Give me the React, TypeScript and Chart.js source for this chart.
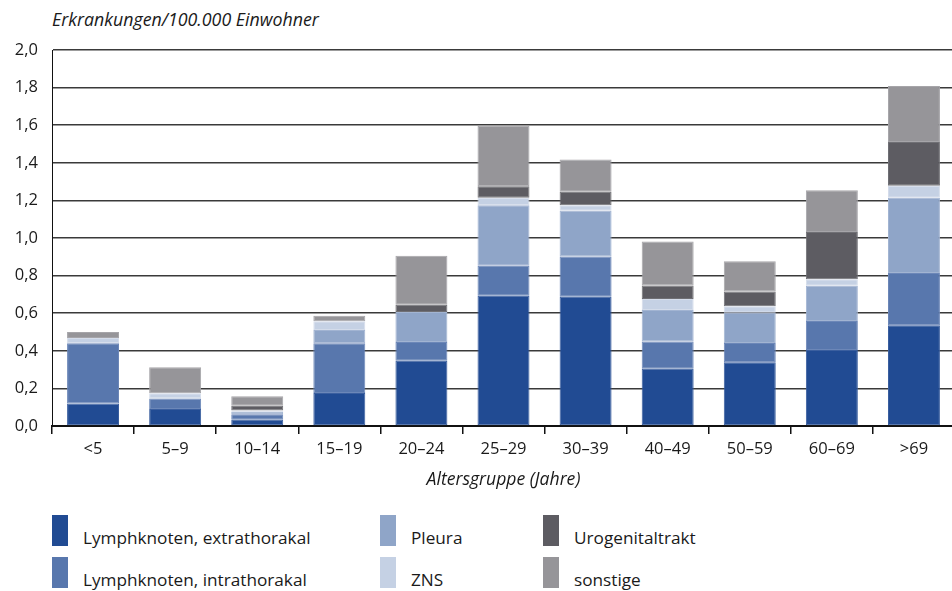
import React, { useEffect, useRef } from "react";
import { Chart, registerables } from "chart.js";

Chart.register(...registerables);

const categories = ["<5", "5–9", "10–14", "15–19", "20–24", "25–29", "30–39", "40–49", "50–59", "60–69", ">69"];

const extrathorakal = [0.12, 0.09, 0.033, 0.175, 0.347, 0.693, 0.688, 0.305, 0.339, 0.404, 0.536];
const intrathorakal = [0.32, 0.056, 0.03, 0.265, 0.10, 0.16, 0.213, 0.145, 0.102, 0.155, 0.278];
const pleura = [0.0, 0.0, 0.014, 0.07, 0.16, 0.321, 0.244, 0.167, 0.162, 0.187, 0.40];
const zns = [0.028, 0.028, 0.006, 0.047, 0.0, 0.04, 0.029, 0.059, 0.034, 0.034, 0.064];
const urogenital = [0.0, 0.0, 0.025, 0.0, 0.038, 0.061, 0.072, 0.072, 0.078, 0.252, 0.233];
const sonstige = [0.032, 0.138, 0.05, 0.03, 0.26, 0.322, 0.172, 0.233, 0.161, 0.222, 0.298];

const seriesNames = [
  "Lymphknoten, extrathorakal",
  "Lymphknoten, intrathorakal",
  "Pleura",
  "ZNS",
  "Urogenitaltrakt",
  "sonstige",
];
const seriesColors = ["#214b93", "#5877ad", "#8fa5c8", "#c5d1e4", "#5d5c62", "#969599"];
const seriesBorders = ["#3b5f9f", "#6c87b8", "#a2b4d2", "#d4dcea", "#707075", "#a6a5a9"];
const seriesValues = [extrathorakal, intrathorakal, pleura, zns, urogenital, sonstige];

const yTicks = [0, 0.2, 0.4, 0.6, 0.8, 1.0, 1.2, 1.4, 1.6, 1.8, 2.0];

const FONT = "'Open Sans', sans-serif";

export default function App() {
  const canvasRef = useRef<HTMLCanvasElement | null>(null);

  useEffect(() => {
    if (!canvasRef.current) return;
    const chart = new Chart(canvasRef.current, {
      type: "bar",
      data: {
        labels: categories,
        datasets: seriesValues.map((vals, i) => ({
          label: seriesNames[i],
          data: vals,
          backgroundColor: seriesColors[i],
          borderColor: seriesBorders[i],
          borderWidth: 1,
          borderSkipped: false,
          barPercentage: 0.633,
          categoryPercentage: 1,
        })),
      },
      options: {
        animation: false,
        responsive: false,
        maintainAspectRatio: false,
        layout: { padding: { left: 0, top: 50, right: 0, bottom: 0 } },
        plugins: { legend: { display: false }, tooltip: { enabled: false }, title: { display: false } },
        scales: {
          x: {
            stacked: true,
            afterFit: (scale: any) => {
              scale.height = 44;
            },
            grid: {
              offset: true,
              drawOnChartArea: false,
              drawTicks: true,
              tickLength: 8,
              color: "#111",
              lineWidth: 1.5,
            },
            border: { display: true, color: "#111", width: 2 },
            ticks: { color: "#1a1a1a", font: { family: FONT, size: 16.5 }, padding: 5, maxRotation: 0 },
          },
          y: {
            stacked: true,
            min: 0,
            max: 2,
            afterFit: (scale: any) => {
              scale.width = 52;
            },
            afterBuildTicks: (scale: any) => {
              scale.ticks = yTicks.map((v) => ({ value: v }));
            },
            grid: { color: "#3a3a3a", lineWidth: 1.5, drawTicks: false },
            border: { display: true, color: "#111", width: 1 },
            ticks: {
              color: "#1a1a1a",
              font: { family: FONT, size: 16.5 },
              padding: 14,
              callback: (v: any) => Number(v).toFixed(1).replace(".", ","),
            },
          },
        },
      },
    });
    return () => chart.destroy();
  }, []);

  const legendCols = [52, 380, 543];
  const legendRows = [515, 557];

  return (
    <div
      style={{
        position: "fixed",
        left: 0,
        top: 0,
        width: 952,
        height: 591,
        overflow: "hidden",
        background: "#fff",
        fontFamily: FONT,
        color: "#1a1a1a",
      }}
    >
      <div
        style={{
          position: "absolute",
          left: 52,
          top: 7,
          fontSize: 17.8,
          fontStyle: "italic",
          whiteSpace: "nowrap",
          lineHeight: "24px",
        }}
      >
        Erkrankungen/100.000 Einwohner
      </div>
      <canvas
        ref={canvasRef}
        width={955}
        height={470}
        style={{ position: "absolute", left: 0, top: 0, width: 955, height: 470 }}
      />
      <div
        style={{
          position: "absolute",
          left: 52,
          width: 903,
          top: 466,
          textAlign: "center",
          fontSize: 17.6,
          fontStyle: "italic",
          lineHeight: "24px",
        }}
      >
        Altersgruppe (Jahre)
      </div>
      {seriesNames.map((name, i) => {
        const col = Math.floor(i / 2);
        const row = i % 2;
        const x = legendCols[col];
        const y = legendRows[row];
        return (
          <React.Fragment key={name}>
            <div
              style={{
                position: "absolute",
                left: x,
                top: y,
                width: 16,
                height: 31,
                background: seriesColors[i],
              }}
            />
            <div
              style={{
                position: "absolute",
                left: x + 31,
                top: y + 11,
                fontSize: 17.2,
                lineHeight: "24px",
                whiteSpace: "nowrap",
              }}
            >
              {name}
            </div>
          </React.Fragment>
        );
      })}
    </div>
  );
}
